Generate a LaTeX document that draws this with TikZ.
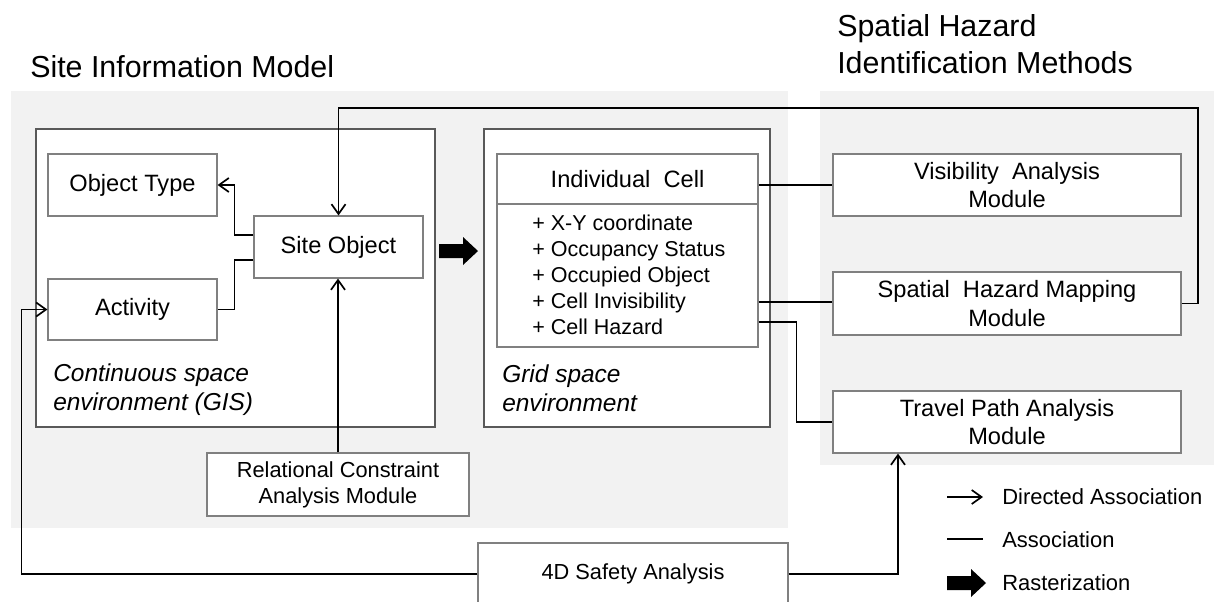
\documentclass[tikz,border=0pt]{standalone}
\usepackage{fontspec}
\setmainfont{Liberation Sans}
\usetikzlibrary{arrows.meta}
\definecolor{fond}{HTML}{F2F2F2}
\definecolor{bordclair}{HTML}{808080}
\definecolor{bordfonce}{HTML}{595959}

\begin{document}
\begin{tikzpicture}[x=0.025cm,y=-0.025cm]
% Styles (MODIFIABLES)
\tikzstyle{fleche}=[-{Straight Barb[length=7pt,width=10pt]},line width=1.2pt]
\tikzstyle{lien}=[line width=1.2pt]
\tikzstyle{zone}=[fill=fond]
\tikzstyle{cadre}=[draw=bordfonce,line width=1.3pt,fill=white]
\tikzstyle{boite}=[draw=bordclair,line width=0.8pt,fill=white,inner sep=0pt,align=center,font=\fontsize{16.8}{20}\selectfont]
\tikzstyle{petite}=[boite,font=\fontsize{15.5}{18.5}\selectfont]
\tikzstyle{attribut}=[anchor=north west,inner sep=0pt,align=left,font=\fontsize{15.3}{18.5}\selectfont]
\tikzstyle{titre}=[anchor=north west,inner sep=0pt,align=left,font=\fontsize{21.6}{26.3}\selectfont]
\tikzstyle{milieu}=[anchor=north west,inner sep=0pt,align=left,font=\fontsize{17.4}{21.3}\selectfont\itshape]
\tikzstyle{legende}=[anchor=west,inner sep=0pt,font=\fontsize{15.6}{18}\selectfont]
\tikzset{rasterisation/.pic={\fill (0,-7) -- (24,-7) -- (24,-14) -- (39,0) -- (24,14) -- (24,7) -- (0,7) -- cycle;}}
% Dimensions (MODIFIABLES)
\def\Px{0.025cm}
% Zones
\useasboundingbox (0,0) rectangle (1214,601);
\clip (0,0) rectangle (1214,601);
\fill[zone] (11,91) rectangle (788,528);
\fill[zone] (820,91) rectangle (1214,465);
% Titres
\node[titre] (TSIM) at (30,55) {Site Information Model};
\node[titre] (TSHI) at (837,14) {Spatial Hazard\\Identification Methods};
% Cadres
\node[cadre,minimum width=399*\Px,minimum height=298*\Px] (GIS) at (235.5,278) {};
\node[cadre,minimum width=286*\Px,minimum height=298*\Px] (Grid) at (627,278) {};
\node[milieu] (TGIS) at (53,363) {Continuous space\\environment (GIS)};
\node[milieu] (TGrid) at (502,364) {Grid space\\environment};
% Noeuds
\node[boite,minimum width=169*\Px,minimum height=62*\Px] (ObjType) at (132.5,185) {Object Type};
\node[boite,minimum width=169*\Px,minimum height=61*\Px] (Activ) at (132.5,309.5) {Activity};
\node[boite,minimum width=169*\Px,minimum height=62*\Px] (SiteObj) at (338.5,247) {Site Object};
\node[petite,minimum width=262*\Px,minimum height=63*\Px] (Relat) at (338,484.5) {Relational Constraint\\Analysis Module};
\node[boite,minimum width=261*\Px,minimum height=50*\Px] (Cell) at (627.5,179) {Individual~~Cell};
\node[boite,minimum width=261*\Px,minimum height=143*\Px] (Attr) at (627.5,275.5) {};
\node[attribut] (AttrTxt) at (532,215) {+ X-Y coordinate\\+ Occupancy Status\\+ Occupied Object\\+ Cell Invisibility\\+ Cell Hazard};
\node[boite,minimum width=348*\Px,minimum height=62*\Px] (Visib) at (1007,185) {Visibility~~Analysis\\Module};
\node[boite,minimum width=348*\Px,minimum height=63*\Px] (Mapping) at (1007,303.5) {Spatial~~Hazard Mapping\\Module};
\node[boite,minimum width=348*\Px,minimum height=62*\Px] (Travel) at (1007,422) {Travel Path Analysis\\Module};
\node[petite,minimum width=310*\Px,minimum height=62*\Px] (Safety) at (633,574) {4D Safety Analysis};
% Rasterisation
\pic at (439,251) {rasterisation};
% Arcs
\draw[fleche] ([yshift=0.3cm]SiteObj.west) -- ++(-19,0) |- (ObjType.east);
\draw[lien] ([yshift=-0.325cm]SiteObj.west) -- ++(-19,0) |- (Activ.east);
\draw[fleche] (Relat.north) -- (Relat.north |- SiteObj.south);
\coordinate (Haut) at (1198,108);
\draw[fleche] (Mapping.east) -| (Haut) -| (SiteObj.north);
\draw[lien] (Visib.west -| Cell.east) -- (Visib.west);
\draw[lien] (Attr.east |- 0,302) -- (Mapping.west |- 0,302);
\draw[lien] (Attr.east |- 0,322) -- ++(38,0) |- (Travel.west);
\draw[fleche] (Safety.west) -- ++(-456,0) |- (Activ.west);
\draw[fleche] (Safety.east) -| ([xshift=-2.725cm]Travel.south);
% Legende
\coordinate (LegA1) at (947,497);
\coordinate (LegA2) at (983,497);
\draw[fleche] (LegA1) -- (LegA2);
\node[legende] (LegAT) at (1002,497) {Directed Association};
\coordinate (LegB1) at (947,539);
\coordinate (LegB2) at (983,539);
\draw[lien] (LegB1) -- (LegB2);
\node[legende] (LegBT) at (1002,540) {Association};
\pic at (947,583) {rasterisation};
\node[legende] (LegCT) at (1002,583) {Rasterization};
\end{tikzpicture}
\end{document}
